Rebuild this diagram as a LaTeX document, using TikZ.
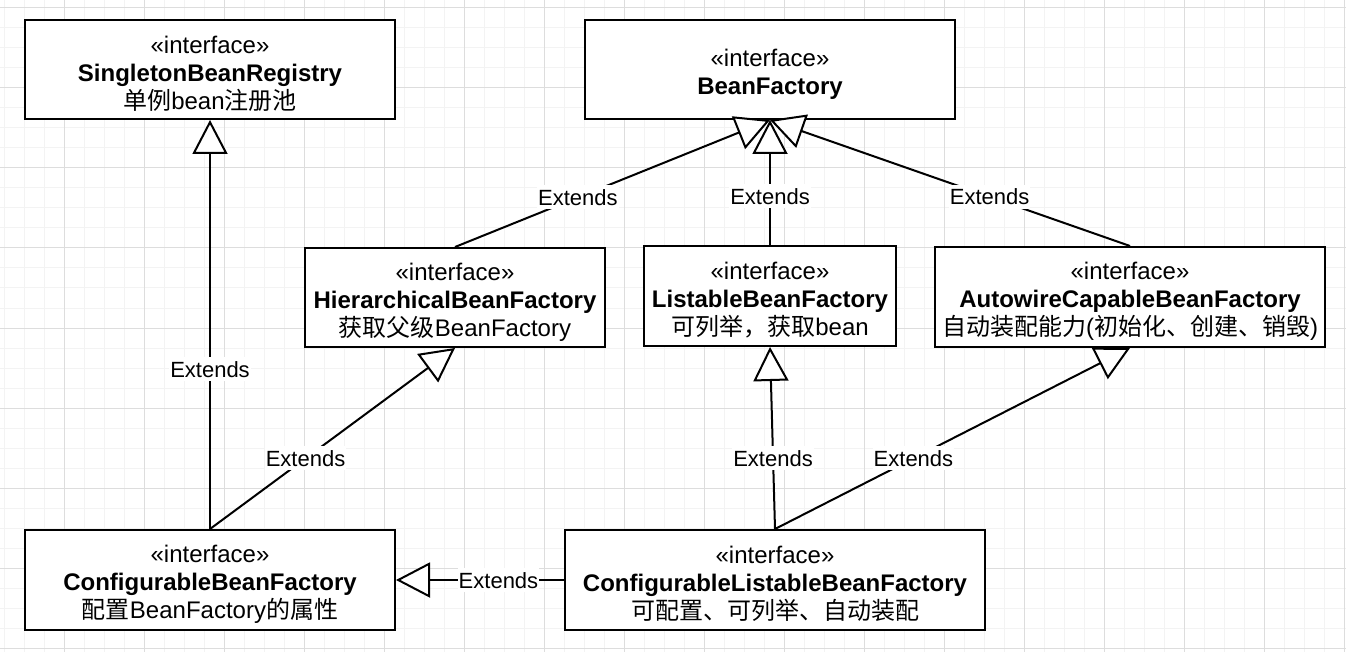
\documentclass[tikz,border=0pt]{standalone}
\usepackage{fontspec}
\setmainfont{Liberation Sans}
\newfontfamily\cjk{Noto Sans CJK SC}
\usetikzlibrary{arrows.meta}
\definecolor{gridmajor}{HTML}{DDDDDD}
\definecolor{gridminor}{HTML}{F3F3F3}
\newcommand{\topstrut}{\rule{0pt}{26pt}}
\begin{document}
\begin{tikzpicture}[x=1pt,y=-1pt,
  box/.style={draw=black, line width=2pt, fill=white, rectangle, align=center,
    inner sep=0pt, font=\fontsize{24}{28}\selectfont},
  ext/.style={draw=black, line width=2pt,
    -{Triangle[length=34pt,width=35pt,fill=white]}},
  lbl/.style={fill=white, inner xsep=1pt, inner ysep=0pt, text height=20pt,
    text depth=4pt, font=\fontsize{22}{26}\selectfont, pos=0.39},
  minorline/.style={draw=gridminor, line width=1pt},
  majorline/.style={draw=gridmajor, line width=1pt}]
\useasboundingbox[fill=white] (0,0) rectangle (1346,652);
% grid
\foreach \x in {4,24,...,1344} \draw[minorline] (\x,0) -- (\x,652);
\foreach \y in {8,28,...,648} \draw[minorline] (0,\y) -- (1346,\y);
\foreach \x in {64,144,...,1344} \draw[majorline] (\x,0) -- (\x,652);
\foreach \y in {8,88,...,648} \draw[majorline] (0,\y) -- (1346,\y);
% boxes
\node[box, minimum width=370pt, minimum height=99pt] (sbr) at (210,69.5)
  {\topstrut«interface»\\\textbf{SingletonBeanRegistry}\\{\cjk 单例}bean{\cjk 注册池}};
\node[box, minimum width=370pt, minimum height=99pt] (bf) at (770,69.5)
  {\topstrut«interface»\\\textbf{BeanFactory}};
\node[box, minimum width=300pt, minimum height=99pt] (hbf) at (455,297.5)
  {\topstrut«interface»\\\textbf{HierarchicalBeanFactory}\\{\cjk 获取父级}BeanFactory};
\node[box, minimum width=252pt, minimum height=100pt] (lbf) at (770,296)
  {\topstrut«interface»\\\textbf{ListableBeanFactory}\\{\cjk 可列举，获取}bean};
\node[box, minimum width=390pt, minimum height=100pt] (acbf) at (1130,297)
  {\topstrut«interface»\\\textbf{AutowireCapableBeanFactory}\\{\cjk 自动装配能力}({\cjk 初始化、创建、销毁})};
\node[box, minimum width=370pt, minimum height=100pt] (cbf) at (210,580)
  {\topstrut«interface»\\\textbf{ConfigurableBeanFactory}\\{\cjk 配置}BeanFactory{\cjk 的属性}};
\node[box, minimum width=420pt, minimum height=100pt] (clbf) at (775,580)
  {\topstrut«interface»\\\textbf{ConfigurableListableBeanFactory}\\{\cjk 可配置、可列举、自动装配}};
% connectors
\draw[ext] (hbf.north) -- node[lbl] {Extends} (bf.south);
\draw[ext] (lbf.north) -- node[lbl] {Extends} (bf.south);
\draw[ext] (acbf.north) -- node[lbl] {Extends} (bf.south);
\draw[ext] (cbf.north) -- node[lbl] {Extends} (sbr.south);
\draw[ext] (cbf.north) -- node[lbl] {Extends} (hbf.south);
\draw[ext] (clbf.north) -- node[lbl] {Extends} (lbf.south);
\draw[ext] (clbf.north) -- node[lbl] {Extends} (acbf.south);
\draw[ext] (clbf.west) -- node[lbl] {Extends} (cbf.east);
\end{tikzpicture}
\end{document}
